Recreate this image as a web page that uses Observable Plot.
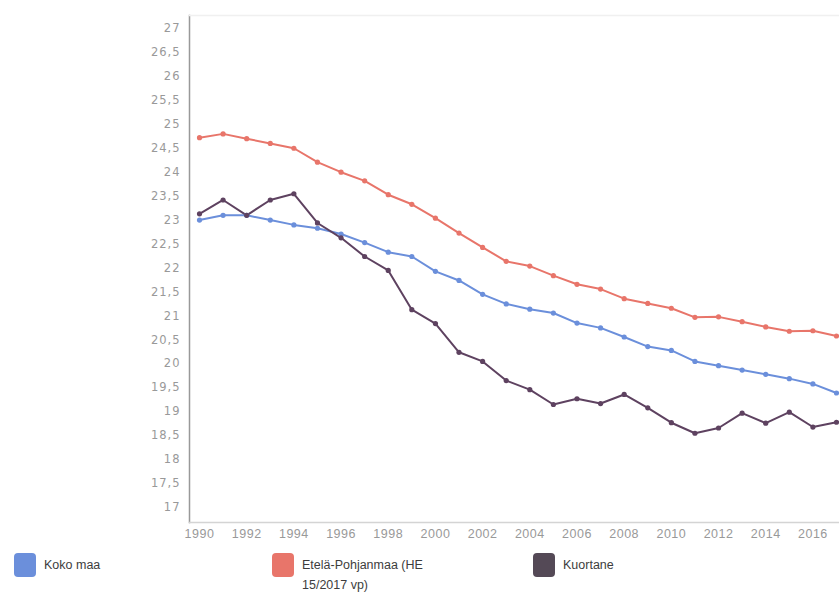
<!DOCTYPE html>
<html>
<head>
<meta charset="utf-8">
<script src="https://cdn.jsdelivr.net/npm/d3@7"></script>
<script src="https://cdn.jsdelivr.net/npm/@observablehq/plot@0.6"></script>
<style>
  html, body { margin: 0; padding: 0; background: #fff; }
  body { width: 839px; height: 594px; overflow: hidden; font-family: "Liberation Sans", Arial, sans-serif; }
  #legend { position: relative; height: 49px; font-size: 12.5px; color: #3d3d3d; }
  .item { position: absolute; top: 8px; display: flex; align-items: flex-start; }
  .sw { width: 22px; height: 24px; border-radius: 4px; margin-right: 8px; flex: none; }
  .lbl { line-height: 20px; width: 170px; padding-top: 2px; }
  g[aria-label="y-axis tick label"] text { letter-spacing: 1px; }
  g[aria-label="x-axis tick label"] text { letter-spacing: 0.5px; }
</style>
</head>
<body>
<div id="chart"></div>
<div id="legend"></div>
<script>
const years = [1990,1991,1992,1993,1994,1995,1996,1997,1998,1999,2000,2001,2002,2003,2004,2005,2006,2007,2008,2009,2010,2011,2012,2013,2014,2015,2016,2017];
const kokoMaa = [23.0,23.1,23.1,23.0,22.9,22.83,22.71,22.53,22.33,22.24,21.93,21.74,21.45,21.25,21.14,21.06,20.85,20.75,20.56,20.36,20.28,20.05,19.96,19.87,19.78,19.69,19.58,19.39];
const etelaPohjanmaa = [24.72,24.8,24.7,24.6,24.5,24.21,24.0,23.82,23.53,23.33,23.04,22.73,22.43,22.14,22.04,21.84,21.66,21.56,21.36,21.26,21.16,20.97,20.98,20.88,20.77,20.68,20.69,20.58];
const kuortane = [23.13,23.42,23.1,23.42,23.55,22.94,22.63,22.24,21.95,21.13,20.84,20.24,20.05,19.65,19.46,19.15,19.27,19.17,19.36,19.08,18.77,18.55,18.66,18.97,18.76,18.99,18.68,18.78];
const seriesNames = ["Koko maa", "Etelä-Pohjanmaa (HE 15/2017 vp)", "Kuortane"];
const seriesColors = ["#6b8fdb", "#e8756a", "#5e4260"];
const yTicks = [17,17.5,18,18.5,19,19.5,20,20.5,21,21.5,22,22.5,23,23.5,24,24.5,25,25.5,26,26.5,27];
const xTicks = [1990,1992,1994,1996,1998,2000,2002,2004,2006,2008,2010,2012,2014,2016];

const seriesValues = [kokoMaa, etelaPohjanmaa, kuortane];
const data = [];
seriesNames.forEach((name, i) => {
  years.forEach((yr, j) => data.push({series: name, year: yr, value: seriesValues[i][j]}));
});

const fmt = v => String(v).replace(".", ",");

const chart = Plot.plot({
  width: 839,
  height: 545,
  marginLeft: 189,
  marginRight: 0,
  marginTop: 15,
  marginBottom: 23,
  insetLeft: 10,
  insetRight: 3,
  insetTop: 13,
  insetBottom: 15,
  style: { fontFamily: "'Liberation Sans', Arial, sans-serif", fontSize: "12px", color: "#999", background: "#fff" },
  x: { domain: [1990, 2017] },
  y: { domain: [17, 27] },
  color: { domain: seriesNames, range: seriesColors },
  marks: [
    Plot.frame({ anchor: "left", stroke: "#999", strokeWidth: 1.5 }),
    Plot.frame({ anchor: "bottom", stroke: "#d4d4d4", strokeWidth: 1.5 }),
    Plot.frame({ anchor: "top", stroke: "#f0f0f0", strokeWidth: 1.5 }),
    Plot.axisY({ ticks: yTicks, tickSize: 0, tickPadding: 9, tickFormat: fmt, label: null, fill: "#999", fontFamily: "'DejaVu Sans', sans-serif", fontSize: 11.5 }),
    Plot.axisX({ ticks: xTicks, tickSize: 0, tickPadding: 7, tickFormat: d => String(d), label: null, fill: "#999", fontSize: 12.5 }),
    Plot.line(data, { x: "year", y: "value", z: "series", stroke: "series", strokeWidth: 2 }),
    Plot.dot(data, { x: "year", y: "value", fill: "series", r: 2.6 })
  ]
});
document.getElementById("chart").appendChild(chart);

const legend = document.getElementById("legend");
const lefts = [14, 272, 533];
seriesNames.forEach((name, i) => {
  const it = document.createElement("div");
  it.className = "item";
  it.style.left = lefts[i] + "px";
  const sw = document.createElement("div");
  sw.className = "sw";
  sw.style.background = i === 2 ? "#544956" : seriesColors[i];
  const lb = document.createElement("div");
  lb.className = "lbl";
  lb.textContent = i === 1 ? "Etelä-Pohjanmaa (HE" : name;
  if (i === 1) {
    lb.appendChild(document.createElement("br"));
    lb.appendChild(document.createTextNode("15/2017 vp)"));
  }
  it.appendChild(sw);
  it.appendChild(lb);
  legend.appendChild(it);
});
</script>
</body>
</html>
